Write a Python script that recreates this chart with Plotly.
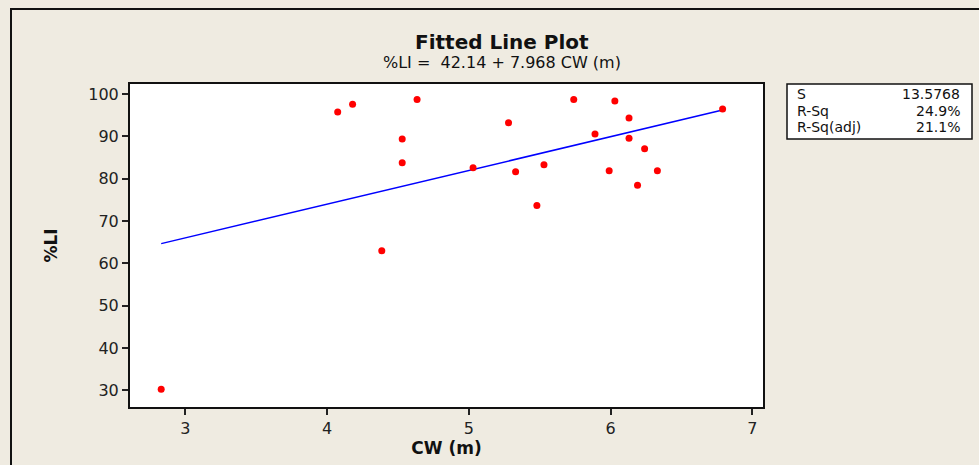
import plotly.graph_objects as go

cw = [2.83, 4.075, 4.18, 4.386, 4.53, 4.53, 4.635, 5.03, 5.28, 5.33, 5.48, 5.53,
      5.74, 5.89, 5.99, 6.03, 6.13, 6.13, 6.19, 6.24, 6.33, 6.79]
li = [30.3, 95.8, 97.6, 63.0, 89.4, 83.8, 98.75, 82.6, 93.25, 81.7, 73.7, 83.3,
      98.75, 90.6, 81.9, 98.4, 94.35, 89.6, 78.5, 87.1, 81.9, 96.5]

intercept = 42.14
slope = 7.968
stat_names = ["S", "R-Sq", "R-Sq(adj)"]
stat_values = ["13.5768", "24.9%", "21.1%"]

x_ticks = [3, 4, 5, 6, 7]
y_ticks = [30, 40, 50, 60, 70, 80, 90, 100]

xmin, xmax = min(cw), max(cw)
n = 50
fit_x = [xmin + (xmax - xmin) * i / (n - 1) for i in range(n)]
fit_y = [intercept + slope * v for v in fit_x]

FONT = "DejaVu Sans"
fig = go.Figure()
fig.add_trace(go.Scatter(x=fit_x, y=fit_y, mode="lines",
                         line=dict(color="#0000FF", width=1.5), hoverinfo="skip"))
fig.add_trace(go.Scatter(x=cw, y=li, mode="markers",
                         marker=dict(color="#FF0000", size=7, line=dict(width=0))))

bg = "#EFEBE1"
fig.update_layout(
    width=979, height=465,
    margin=dict(l=130, r=216, t=84, b=58),
    paper_bgcolor=bg, plot_bgcolor="white",
    showlegend=False,
    font=dict(family=FONT, color="#1a1a1a"),
    xaxis=dict(range=[2.61, 7.075], tickvals=x_ticks, ticks="outside", ticklen=6,
               tickwidth=1.5, tickcolor="#222", showgrid=False, zeroline=False,
               showline=True, linecolor="#111", linewidth=2, mirror=True,
               tickfont=dict(size=16, family=FONT, color="#222"),
               title=dict(text="<b>CW (m)</b>", font=dict(size=17, family=FONT, color="#111"),
                          standoff=2)),
    yaxis=dict(range=[26.1, 102.4], tickvals=y_ticks, ticks="outside", ticklen=6,
               tickwidth=1.5, tickcolor="#222", showgrid=False, zeroline=False,
               showline=True, linecolor="#111", linewidth=2, mirror=True,
               tickfont=dict(size=16, family=FONT, color="#222"),
               title=dict(text="<b>%LI</b>", font=dict(size=17, family=FONT, color="#111"),
                          standoff=26)),
)

# outer border (right and bottom run off the canvas)
fig.add_shape(type="rect", xref="paper", yref="paper",
              x0=-119 / 633, x1=1.6, y0=-2, y1=1 + 75 / 323,
              line=dict(color="#111", width=2), fillcolor="rgba(0,0,0,0)", layer="below")

fig.add_annotation(text="<b>Fitted Line Plot</b>", xref="paper", yref="paper",
                   x=(502 - 130) / 633, y=1 + (84 - 42) / 323, showarrow=False,
                   font=dict(size=20, family=FONT, color="#111"), yanchor="middle")
fig.add_annotation(text="%LI =  42.14 + 7.968 CW (m)", xref="paper", yref="paper",
                   x=(502 - 130) / 633, y=1 + (84 - 63) / 323, showarrow=False,
                   font=dict(size=16, family=FONT, color="#111"), yanchor="middle")

# statistics box
bx0, bx1, by0, by1 = 787, 972, 84, 139
def px_x(p):
    return (p - 130) / 633
def px_y(p):
    return 1 - (p - 84) / 323
fig.add_shape(type="rect", xref="paper", yref="paper",
              x0=px_x(bx0), x1=px_x(bx1), y0=px_y(by1), y1=px_y(by0),
              line=dict(color="#111", width=1.5), fillcolor="white")
rows_y = [94, 111, 127]
for name, val, ry in zip(stat_names, stat_values, rows_y):
    fig.add_annotation(text=name, xref="paper", yref="paper", x=px_x(795), y=px_y(ry),
                       xanchor="left", yanchor="middle", showarrow=False,
                       font=dict(size=14, family=FONT, color="#111"))
    fig.add_annotation(text=val, xref="paper", yref="paper", x=px_x(962), y=px_y(ry),
                       xanchor="right", yanchor="middle", showarrow=False,
                       font=dict(size=14, family=FONT, color="#111"))

fig.write_html("out.html")
